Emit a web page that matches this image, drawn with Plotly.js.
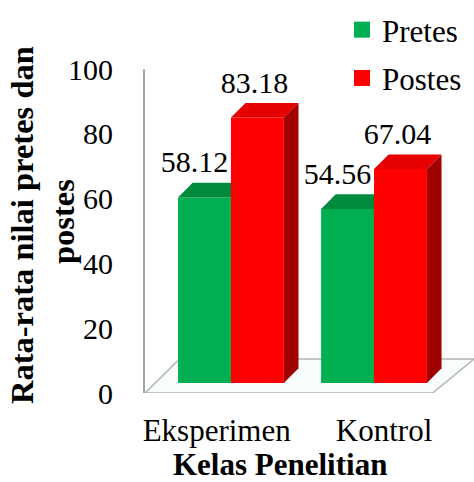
<!DOCTYPE html>
<html>
<head>
<meta charset="utf-8">
<script src="https://cdn.plot.ly/plotly-3.0.1.min.js"></script>
<style>html,body{margin:0;padding:0;background:#fff}</style>
</head>
<body>
<div id="chart" style="width:474px;height:482px"></div>
<script>
const categories = ["Eksperimen", "Kontrol"];
const pretes = [58.12, 54.56];
const postes = [83.18, 67.04];
const yTicks = [0, 20, 40, 60, 80, 100];
const xTickPositions = [-0.1, 1.07];

const barW = 0.37, depthX = 0.102, depthY = 4.6;
const FONT = '"Liberation Serif","Times New Roman",serif';

function box3d(values, start, axis, topColor, sideColor) {
  const out = [];
  values.forEach((v, i) => {
    const l = i + start, r = l + barW;
    out.push({type:'scatter', mode:'lines', yaxis:axis, hoverinfo:'skip', showlegend:false,
      x:[l, r, r+depthX, l+depthX, l], y:[v, v, v+depthY, v+depthY, v],
      fill:'toself', fillcolor:topColor, line:{width:0}});
    out.push({type:'scatter', mode:'lines', yaxis:axis, hoverinfo:'skip', showlegend:false,
      x:[r, r+depthX, r+depthX, r, r], y:[0, depthY, v+depthY, v, 0],
      fill:'toself', fillcolor:sideColor, line:{width:0}});
  });
  return out;
}
function bars(values, start, axis, color) {
  return {type:'bar', x:[0,1], y:values, yaxis:axis, width:barW, offset:start,
    marker:{color:color, line:{width:0}}, showlegend:false, hoverinfo:'skip'};
}
function labels(values, start, shift, axis) {
  return {type:'scatter', mode:'text', yaxis:axis, showlegend:false, hoverinfo:'skip',
    x:values.map((v,i)=>i+start+barW/2+shift), y:values.map(v=>v+10.2),
    text:values.map(v=>v.toFixed(2)), textposition:'middle center',
    textfont:{family:FONT, size:30, color:'#000'}, cliponaxis:false};
}
const floor = {type:'scatter', mode:'lines', xaxis:'x', yaxis:'y', hoverinfo:'skip', showlegend:false,
  x:[-0.6, -0.36, 1.699, 1.41, -0.6], y:[0, 10.5, 10.5, 0, 0],
  fill:'toself', fillcolor:'#f8fcfc', line:{color:'#b4b4b4', width:1.5}};
const legendItem = (name,color,group)=>({type:'scatter', mode:'markers', x:[null], y:[null], name:name,
  legendgroup:group, marker:{symbol:'square', size:16, color:color}, hoverinfo:'skip'});

const data = [
  floor,
  bars(pretes, -barW, 'y2', '#00B050'),
  ...box3d(pretes, -barW, 'y2', '#008A3E', '#007A36'),
  bars(postes, 0, 'y3', '#FF0000'),
  ...box3d(postes, 0, 'y3', '#E60000', '#A00000'),
  labels(pretes, -barW, -0.07, 'y3'),
  labels(postes, 0, -0.02, 'y3'),
  legendItem('Pretes', '#00B050', 'a'),
  legendItem('Postes', '#FF0000', 'b')
];
const hidden = {overlaying:'y', range:[-3.13, 98.4], visible:false, fixedrange:true};
const ann = (t,x,y,a,s)=>({text:t, x:(x-145)/329, y:(482-y-89)/324, xref:'paper', yref:'paper',
  xanchor:'center', yanchor:'middle', showarrow:false, textangle:a||0,
  font:{family:FONT, size:s, color:'#000', weight:'bold'}});
const layout = {
  width:474, height:482,
  margin:{l:145, r:0, t:69, b:89, pad:0},
  paper_bgcolor:'#fff', plot_bgcolor:'#fff',
  showlegend:true,
  legend:{x:(342-145)/329, y:1+(69-3)/324, xanchor:'left', yanchor:'top', tracegroupgap:5,
    bgcolor:'rgba(0,0,0,0)', itemwidth:30, font:{family:FONT, size:31, color:'#000'}},
  xaxis:{range:[-0.601, 1.699], tickmode:'array', tickvals:xTickPositions, ticktext:categories,
    showgrid:false, zeroline:false, showline:false, ticks:'outside', ticklen:10, tickcolor:'rgba(0,0,0,0)',
    tickfont:{family:FONT, size:31, color:'#000'}},
  yaxis:{range:[0,100], tickmode:'array', tickvals:yTicks, showgrid:false, zeroline:false,
    showline:true, linecolor:'#a6a6a6', linewidth:2, ticks:'outside', ticklen:24, tickcolor:'rgba(0,0,0,0)',
    tickfont:{family:FONT, size:30, color:'#000'}},
  yaxis2:hidden, yaxis3:Object.assign({}, hidden),
  annotations:[
    ann('Rata-rata nilai pretes dan', 22, 225, -90, 32.5),
    ann('postes', 63, 222, -90, 32.5),
    ann('Kelas Penelitian', 280, 464, 0, 31)
  ]
};
Plotly.newPlot('chart', data, layout, {displayModeBar:false, staticPlot:true});
</script>
</body>
</html>
